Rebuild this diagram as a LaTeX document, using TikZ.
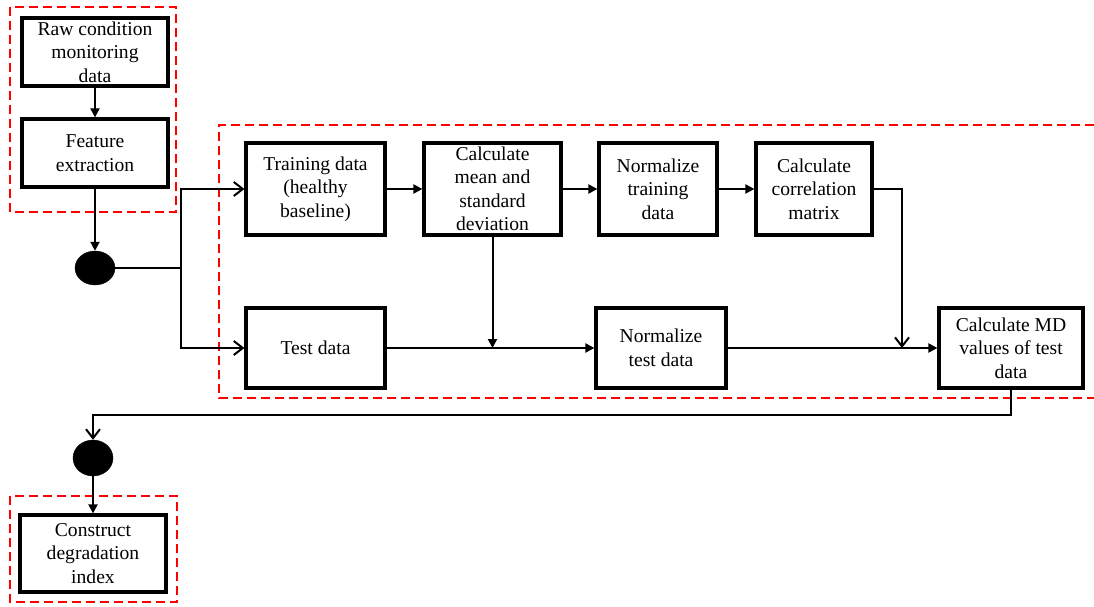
\documentclass[tikz,border=0pt]{standalone}
\usepackage{fontspec}
\setmainfont{Liberation Serif}
\usetikzlibrary{arrows.meta, shapes.geometric}

\begin{document}
\begin{tikzpicture}[x=1pt, y=-1pt]
        \tikzset{blk/.style={draw, line width=3.2pt, align=center, inner sep=0pt, font=\fontsize{19.6}{23.5}\selectfont}}
        \tikzset{dot/.style={ellipse, fill=black, draw=black, inner sep=0pt}}
        \tikzset{arrowF/.style={line width=2pt, -{Triangle[length=9pt, width=9pt]}}}
        \tikzset{arrowO/.style={line width=2pt, -{Straight Barb[length=9pt, width=14pt, line width=2pt]}}}
        \tikzset{group/.style={draw=red, line width=2.5pt, dash pattern=on 9pt off 5pt}}

        \useasboundingbox (0,0) rectangle (1094,607);

        % dashed groups
        \draw[group] (10,7) rectangle (176,212);
        \draw[group] (1094,125) -- (219,125) -- (219,398) -- (1094,398);
        \draw[group] (10,496) rectangle (177,602);

        % boxes
        \node[blk, minimum width=146pt, minimum height=68pt] (raw) at (95,52) {Raw condition\\monitoring\\data};
        \node[blk, minimum width=146pt, minimum height=68pt] (feat) at (95,153) {Feature\\extraction};
        \node[dot, minimum width=40pt, minimum height=34pt] (j1) at (95,268) {};

        \node[blk, minimum width=139pt, minimum height=92pt] (train) at (315.5,189) {Training data\\(healthy\\baseline)};
        \node[blk, minimum width=137pt, minimum height=92pt] (mean) at (492.5,189) {Calculate\\mean and\\standard\\deviation};
        \node[blk, minimum width=118pt, minimum height=92pt] (normtr) at (658,189) {Normalize\\training\\data};
        \node[blk, minimum width=116pt, minimum height=92pt] (corr) at (814,189) {Calculate\\correlation\\matrix};

        \node[blk, minimum width=139pt, minimum height=80pt] (test) at (315.5,348) {Test data};
        \node[blk, minimum width=130pt, minimum height=80pt] (normte) at (661,348) {Normalize\\test data};
        \node[blk, minimum width=144pt, minimum height=80pt] (md) at (1011,348) {Calculate MD\\values of test\\data};

        \node[dot, minimum width=40pt, minimum height=36pt] (j2) at (93,458) {};
        \node[blk, minimum width=146pt, minimum height=77pt] (cdi) at (93,553.5) {Construct\\degradation\\index};

        \coordinate (br) at (181,268);
        \coordinate (join) at (902,348);
        \coordinate (back) at (1011,415);

        % connectors
        \draw[arrowF] (raw) -- (feat);
        \draw[arrowF] (feat) -- (j1);
        \draw[line width=2pt] (j1.east) -- (br);
        \draw[arrowO] (br) |- (train.west);
        \draw[arrowO] (br) |- (test.west);

        \draw[arrowF] (train) -- (mean);
        \draw[arrowF] (mean) -- (normtr);
        \draw[arrowF] (normtr) -- (corr);
        \draw[arrowF] (mean.south) -- (mean.south |- test.east);

        \draw[arrowF] (test) -- (normte);
        \draw[arrowF] (normte) -- (md);
        \draw[arrowO] (corr.east) -| (join);

        \draw[arrowO] (md.south) -- (back) -| (j2.north);
        \draw[arrowF] (j2) -- (cdi);

    \end{tikzpicture}
\end{document}
